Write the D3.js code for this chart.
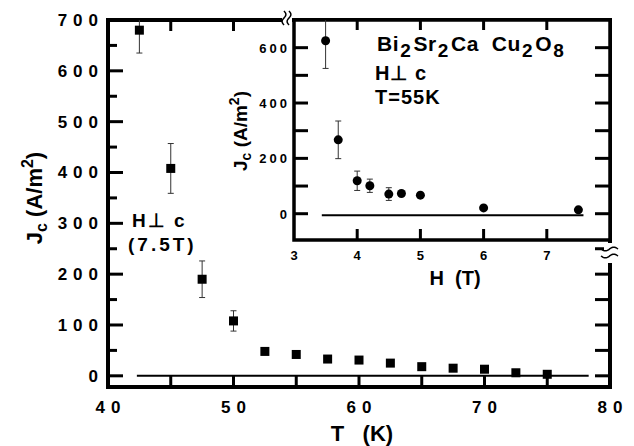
<!DOCTYPE html>
<html>
<head>
<meta charset="utf-8">
<script src="https://cdn.jsdelivr.net/npm/d3@7"></script>
<style>
  body { margin: 0; background: #fff; }
  svg { font-family: "Liberation Sans", Arial, sans-serif; font-weight: bold; }
</style>
</head>
<body>
<svg id="drawing_region"></svg>
<script>
// main plot: Jc vs T at 7.5 T
const temps = [42.5, 45, 47.5, 50, 52.5, 55, 57.5, 60, 62.5, 65, 67.5, 70, 72.5, 75];
const jcT = [680, 408, 190, 108, 48, 42, 33, 31, 25, 18, 15, 13, 6, 3];
const jcTerr = [45, 49, 36, 20, 0, 0, 0, 0, 0, 0, 0, 0, 0, 0];
const tTicks = [40, 50, 60, 70, 80];
const jcTicks = [0, 100, 200, 300, 400, 500, 600, 700];

// inset: Jc vs H at 55 K
const fields = [3.5, 3.7, 4.0, 4.2, 4.5, 4.7, 5.0, 6.0, 7.5];
const jcH = [625, 267, 119, 101, 71, 73, 67, 21, 14];
const jcHerr = [100, 68, 35, 24, 23, 0, 0, 0, 0];
const hTicks = [3, 4, 5, 6, 7];
const jcHTicks = [0, 200, 400, 600];

const width = 634, height = 446;
const svg = d3.select('#drawing_region')
    .attr('width', width)
    .attr('height', height);

// ---- main chart ----
const main = {left: 108, right: 610, top: 20, bottom: 387};
const xscale = d3.scaleLinear().domain([40, 80]).range([main.left, main.right]);
const yscale = d3.scaleLinear().domain([-22, 700]).range([main.bottom, main.top]);

// ticks (inward)
const g = svg.append('g');
d3.range(0, 701, 50).forEach(v => {
    const len = v % 100 === 0 ? 15 : 9;
    g.append('line').attr('x1', main.left).attr('x2', main.left + len)
        .attr('y1', yscale(v)).attr('y2', yscale(v))
        .attr('stroke', '#000').attr('stroke-width', 3);
    g.append('line').attr('x1', main.right).attr('x2', main.right - 15)
        .attr('y1', yscale(v)).attr('y2', yscale(v))
        .attr('stroke', '#000').attr('stroke-width', 3);
});
d3.range(45, 80, 5).forEach(v => {
    g.append('line').attr('x1', xscale(v)).attr('x2', xscale(v))
        .attr('y1', main.bottom).attr('y2', main.bottom - 11)
        .attr('stroke', '#000').attr('stroke-width', 3);
    g.append('line').attr('x1', xscale(v)).attr('x2', xscale(v))
        .attr('y1', main.top).attr('y2', main.top + 11)
        .attr('stroke', '#000').attr('stroke-width', 3);
});

g.append('rect')
    .attr('x', main.left).attr('y', main.top)
    .attr('width', main.right - main.left).attr('height', main.bottom - main.top)
    .attr('fill', 'none').attr('stroke', '#000').attr('stroke-width', 4);

// tick labels
g.selectAll('.ylab').data(jcTicks).enter().append('text')
    .attr('x', 98).attr('y', d => yscale(d) + 6)
    .attr('text-anchor', 'end')
    .attr('font-size', 17).attr('letter-spacing', 6).attr('dx', 6)
    .text(d => d);
g.selectAll('.xlab').data(tTicks).enter().append('text')
    .attr('x', d => xscale(d) + 3).attr('y', 413)
    .attr('text-anchor', 'middle')
    .attr('font-size', 17).attr('letter-spacing', 6)
    .text(d => d);

// axis titles
g.append('text').attr('x', 362).attr('y', 441)
    .attr('text-anchor', 'middle').attr('font-size', 22)
    .attr('xml:space', 'preserve')
    .text('T   (K)');
const ytitle = g.append('text')
    .attr('transform', 'translate(42,198) rotate(-90)')
    .attr('text-anchor', 'middle').attr('font-size', 22);
ytitle.append('tspan').text('J');
ytitle.append('tspan').attr('dy', 5).attr('font-size', 16).text('c');
ytitle.append('tspan').attr('dy', -5).text(' (A/m');
ytitle.append('tspan').attr('dy', -9).attr('font-size', 16).text('2');
ytitle.append('tspan').attr('dy', 9).text(')');

// zero line
g.append('line')
    .attr('x1', xscale(42.3)).attr('x2', xscale(78.3))
    .attr('y1', yscale(0)).attr('y2', yscale(0))
    .attr('stroke', '#000').attr('stroke-width', 2);

// error bars
const mainData = temps.map((t, i) => ({x: t, y: jcT[i], e: jcTerr[i]}));
const clipY = v => Math.max(main.top, yscale(v));
mainData.filter(d => d.e > 0).forEach(d => {
    const cx = xscale(d.x);
    g.append('line').attr('x1', cx).attr('x2', cx)
        .attr('y1', clipY(d.y + d.e)).attr('y2', yscale(d.y - d.e))
        .attr('stroke', '#333').attr('stroke-width', 1);
    [d.y + d.e, d.y - d.e].forEach(v => {
        if (yscale(v) > main.top + 2) {
            g.append('line').attr('x1', cx - 3).attr('x2', cx + 3)
                .attr('y1', yscale(v)).attr('y2', yscale(v))
                .attr('stroke', '#333').attr('stroke-width', 1);
        }
    });
});
g.selectAll('.sq').data(mainData).enter().append('rect')
    .attr('x', d => xscale(d.x) - 4.5).attr('y', d => yscale(d.y) - 4.5)
    .attr('width', 9).attr('height', 9).attr('fill', '#000');

// annotation
g.append('text').attr('x', 132).attr('y', 227).attr('font-size', 19)
    .attr('letter-spacing', 2).text('H\u22A5 c');
g.append('text').attr('x', 128).attr('y', 251).attr('font-size', 19)
    .attr('letter-spacing', 3).text('(7.5T)');

// ---- inset ----
const ins = {left: 294, right: 610, top: 20, bottom: 240};
const xi = d3.scaleLinear().domain([3, 8]).range([ins.left, ins.right]);
const yi = d3.scaleLinear().domain([-95, 700]).range([ins.bottom, ins.top]);

const gi = svg.append('g');
gi.append('rect')
    .attr('x', ins.left).attr('y', ins.top)
    .attr('width', ins.right - ins.left).attr('height', ins.bottom - ins.top)
    .attr('fill', '#fff').attr('stroke', 'none');

d3.range(0, 601, 100).forEach(v => {
    gi.append('line').attr('x1', ins.left).attr('x2', ins.left + 14)
        .attr('y1', yi(v)).attr('y2', yi(v))
        .attr('stroke', '#000').attr('stroke-width', 3);
    gi.append('line').attr('x1', ins.right).attr('x2', ins.right - 15)
        .attr('y1', yi(v)).attr('y2', yi(v))
        .attr('stroke', '#000').attr('stroke-width', 3);
});
[4, 5, 6, 7].forEach(v => {
    gi.append('line').attr('x1', xi(v)).attr('x2', xi(v))
        .attr('y1', ins.bottom).attr('y2', ins.bottom - 11)
        .attr('stroke', '#000').attr('stroke-width', 3);
    gi.append('line').attr('x1', xi(v)).attr('x2', xi(v))
        .attr('y1', ins.top).attr('y2', ins.top + 10)
        .attr('stroke', '#000').attr('stroke-width', 3);
});
gi.append('rect')
    .attr('x', ins.left).attr('y', ins.top)
    .attr('width', ins.right - ins.left).attr('height', ins.bottom - ins.top)
    .attr('fill', 'none').attr('stroke', '#000').attr('stroke-width', 3.5);

gi.selectAll('.iylab').data(jcHTicks).enter().append('text')
    .attr('x', 287).attr('y', d => yi(d) + 5)
    .attr('text-anchor', 'end')
    .attr('font-size', 13).attr('letter-spacing', 3).attr('dx', 3)
    .text(d => d);
gi.selectAll('.ixlab').data(hTicks).enter().append('text')
    .attr('x', d => xi(d)).attr('y', 260)
    .attr('text-anchor', 'middle')
    .attr('font-size', 13)
    .text(d => d);
gi.append('text').attr('x', 455).attr('y', 285)
    .attr('text-anchor', 'middle').attr('font-size', 20)
    .attr('xml:space', 'preserve')
    .text('H  (T)');
const iytitle = gi.append('text')
    .attr('transform', 'translate(247,131) rotate(-90)')
    .attr('text-anchor', 'middle').attr('font-size', 19);
iytitle.append('tspan').text('J');
iytitle.append('tspan').attr('dy', 4).attr('font-size', 14).text('c');
iytitle.append('tspan').attr('dy', -4).text(' (A/m');
iytitle.append('tspan').attr('dy', -8).attr('font-size', 14).text('2');
iytitle.append('tspan').attr('dy', 8).text(')');

gi.append('line')
    .attr('x1', xi(3.44)).attr('x2', xi(7.58))
    .attr('y1', yi(-6)).attr('y2', yi(-6))
    .attr('stroke', '#000').attr('stroke-width', 2);

const insData = fields.map((h, i) => ({x: h, y: jcH[i], e: jcHerr[i]}));
insData.filter(d => d.e > 0).forEach(d => {
    const cx = xi(d.x);
    gi.append('line').attr('x1', cx).attr('x2', cx)
        .attr('y1', Math.max(ins.top, yi(d.y + d.e))).attr('y2', yi(d.y - d.e))
        .attr('stroke', '#333').attr('stroke-width', 1);
    [d.y + d.e, d.y - d.e].forEach(v => {
        if (yi(v) > ins.top + 2) {
            gi.append('line').attr('x1', cx - 3).attr('x2', cx + 3)
                .attr('y1', yi(v)).attr('y2', yi(v))
                .attr('stroke', '#333').attr('stroke-width', 1);
        }
    });
});
gi.selectAll('.dot').data(insData).enter().append('circle')
    .attr('cx', d => xi(d.x)).attr('cy', d => yi(d.y))
    .attr('r', 4.5).attr('fill', '#000');

// inset annotation
const formula = gi.append('text').attr('x', 375).attr('y', 51)
    .attr('font-size', 21).attr('letter-spacing', 0.6);
[['Bi', 0], ['2', 1], ['Sr', 0], ['2', 1], ['Ca  Cu', 0], ['2', 1], ['O', 0], ['8', 1]].forEach(([s, sub], i, arr) => {
    const prev = i > 0 ? arr[i - 1][1] : 0;
    formula.append('tspan')
        .attr('dy', (sub - prev) * 6)
        .attr('dx', sub ? 1 : 2)
        .attr('font-size', sub ? 19 : 21)
        .attr('xml:space', 'preserve')
        .text(s);
});
gi.append('text').attr('x', 375).attr('y', 80).attr('font-size', 20)
    .attr('letter-spacing', 1).text('H\u22A5 c');
gi.append('text').attr('x', 375).attr('y', 104).attr('font-size', 20)
    .attr('letter-spacing', 1).text('T=55K');

// ---- axis break marks ----
const wave = (x0, y0, len, vertical) => {
    const pts = d3.range(0, 1.001, 0.1).map(t => {
        const a = t * len, b = Math.sin(t * Math.PI * 2) * 2;
        return vertical ? [x0 + b, y0 + a] : [x0 + a, y0 + b];
    });
    return d3.line().curve(d3.curveBasis)(pts);
};
svg.append('rect').attr('x', 282).attr('y', 14).attr('width', 10).attr('height', 10).attr('fill', '#fff');
svg.append('path').attr('d', wave(284, 11, 14, true)).attr('fill', 'none').attr('stroke', '#000').attr('stroke-width', 1.5);
svg.append('path').attr('d', wave(289, 11, 14, true)).attr('fill', 'none').attr('stroke', '#000').attr('stroke-width', 1.5);

svg.append('rect').attr('x', 604).attr('y', 243).attr('width', 12).attr('height', 20).attr('fill', '#fff');
svg.append('path').attr('d', wave(601, 249, 17, false)).attr('fill', 'none').attr('stroke', '#000').attr('stroke-width', 1.5);
svg.append('path').attr('d', wave(601, 256, 17, false)).attr('fill', 'none').attr('stroke', '#000').attr('stroke-width', 1.5);
</script>
</body>
</html>
